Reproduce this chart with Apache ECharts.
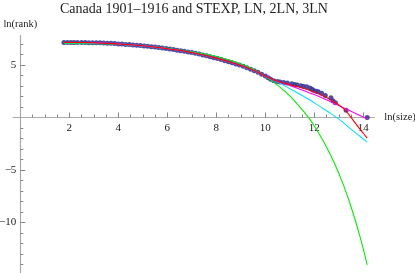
<!DOCTYPE html>
<html><head><meta charset="utf-8">
<script src="https://cdn.jsdelivr.net/npm/echarts@6/dist/echarts.min.js"></script>
<style>html,body{margin:0;padding:0;background:#fff}#c{width:415px;height:273px}</style>
</head><body><div id="c"></div><script>
const titleText = 'Canada 1901\u20131916 and STEXP, LN, 2LN, 3LN';
const xTicks = [2, 4, 6, 8, 10, 12, 14];
const xMinorTicks = [0.5,1,1.5,2,2.5,3,3.5,4,4.5,5,5.5,6,6.5,7,7.5,8,8.5,9,9.5,10,10.5,11,11.5,12,12.5,13,13.5,14];
const yTicks = [-10, -5, 5];
const yMinorTicks = [-14,-13,-12,-11,-10,-9,-8,-7,-6,-5,-4,-3,-2,-1,1,2,3,4,5,6,7];

// data points (ln(size), ln(rank))
const dataX = [1.78,1.92,2.06,2.19,2.33,2.5,2.65,2.8,2.95,3.1,3.25,3.4,3.55,3.7,3.85,4.0,4.15,4.3,4.45,4.6,4.75,4.9,5.05,5.2,5.35,5.5,5.65,5.8,5.95,6.1,6.25,6.4,6.55,6.7,6.85,7.0,7.15,7.3,7.45,7.6,7.75,7.9,8.05,8.2,8.35,8.5,8.65,8.8,8.95,9.1,9.25,9.4,9.55,9.7,9.85,10.0,10.12,10.22,
  10.35,10.5,10.6,10.75,10.9,11.08,11.2,11.3,11.45,11.55,11.69,11.82,11.9,11.96,12.08,12.16,12.3,12.45,12.68,12.76,12.86,13.3,14.16];
const dataY = [7.15,7.15,7.15,7.15,7.14,7.14,7.14,7.13,7.12,7.12,7.11,7.1,7.08,7.06,7.04,7.01,6.99,6.96,6.94,6.91,6.88,6.85,6.81,6.78,6.74,6.71,6.67,6.62,6.57,6.52,6.47,6.41,6.36,6.3,6.24,6.18,6.11,6.04,5.96,5.88,5.79,5.7,5.61,5.51,5.41,5.31,5.21,5.1,4.99,4.87,4.74,4.6,4.45,4.3,4.12,3.94,3.78,3.64,
  3.5,3.42,3.38,3.32,3.28,3.22,3.15,3.08,3.02,2.98,2.92,2.8,2.68,2.6,2.5,2.44,2.3,2.1,1.87,1.6,1.4,0.68,0.0];

// STEXP (green)
const stexpX = [1.8,3,4,5,6,7,8,9,9.5,10,10.5,11,11.5,11.8,12.0,12.4,12.8,13.2,13.6,13.9,14.16];
const stexpY = [7.06,7.03,6.97,6.83,6.58,6.25,5.8,5.1,4.6,3.92,3.08,2.05,0.75,-0.12,-0.82,-2.38,-4.25,-6.5,-9.25,-11.65,-14.05];
// LN (cyan)
const lnX = [1.8,3,4,5,6,7,8,9,9.5,10,10.6,11,11.5,11.82,12,12.5,12.91,13.5,14,14.16];
const lnY = [7.12,7.1,7.0,6.82,6.55,6.17,5.64,4.95,4.48,3.92,3.26,2.74,2.09,1.67,1.39,0.63,0.0,-1.11,-2.06,-2.36];
// 2LN (red)
const ln2X = [1.8,2.5,3,4,5,6,7,8,9,9.5,10,10.5,11,11.5,12,12.5,13,13.25,13.5,13.73,14,14.16];
const ln2Y = [7.15,7.14,7.12,7.0,6.83,6.55,6.18,5.65,4.95,4.5,3.95,3.45,3.12,2.82,2.42,1.9,1.2,0.71,0.0,-0.71,-1.51,-1.98];
// 3LN (magenta)
const ln3X = [1.8,3,4,5,6,7,8,9,9.5,10,10.5,11,11.5,12,12.5,13,13.5,14,14.16];
const ln3Y = [7.14,7.12,7.0,6.83,6.55,6.18,5.65,4.95,4.5,3.95,3.42,3.05,2.62,2.18,1.68,1.13,0.58,0.03,-0.15];

const zip = (a, b) => a.map((v, i) => [v, b[i]]);
const serif = 'Liberation Serif, Times New Roman, serif';
const fmt = v => v < 0 ? '\u2212' + (-v) : String(v);

const W = 415, H = 273;
const X_MIN = -0.3, X_MAX = 14.45, Y_MIN = -14.8, Y_MAX = 7.8;
const G = {left: 13, right: 40.7, top: 35.6, bottom: 0.3};
const pw = W - G.left - G.right, ph = H - G.top - G.bottom;
const x0px = G.left + (0 - X_MIN) / (X_MAX - X_MIN) * pw;   // where x = 0 sits
const y0px = G.top + (Y_MAX - 0) / (Y_MAX - Y_MIN) * ph;    // where y = 0 sits
const base = {containLabel: false, outerBoundsMode: 'none'};
const grids = [
  Object.assign({}, base, G),                                              // plot
  Object.assign({}, base, G),                                              // major ticks
  Object.assign({}, base, {left: G.left, right: G.right, top: G.top, bottom: H - y0px}), // x labels
  Object.assign({}, base, {left: x0px, right: G.right, top: G.top, bottom: G.bottom})    // y labels
];

const chart = echarts.init(document.getElementById('c'), null, {renderer: 'canvas'});
const line = (name, x, y, color) => ({
  name, type: 'line', data: zip(x, y), xAxisIndex: 0, yAxisIndex: 0,
  showSymbol: false, smooth: true, clip: true,
  lineStyle: {color, width: 1.1}, z: 3, animation: false
});
const hidden = (gi, min, max) => ({type: 'value', gridIndex: gi, min, max, show: false});
const tickColor = '#888';
chart.setOption({
  animation: false,
  title: {text: titleText, left: 60, top: 2, padding: 0,
    textStyle: {fontFamily: serif, fontSize: 14, fontWeight: 'normal', color: '#222'}},
  grid: grids,
  xAxis: [
    {type: 'value', gridIndex: 0, min: X_MIN, max: X_MAX,
     name: 'ln(size)', nameLocation: 'end', nameGap: 10,
     nameTextStyle: {fontFamily: serif, fontSize: 10.5, color: '#222'},
     axisLine: {onZero: true, lineStyle: {color: '#aaa', width: 1.2}},
     axisTick: {inside: true, length: 3, customValues: xMinorTicks, lineStyle: {color: tickColor}},
     axisLabel: {show: false}, splitLine: {show: false}},
    {type: 'value', gridIndex: 1, min: X_MIN, max: X_MAX,
     axisLine: {show: false, onZero: true},
     axisTick: {inside: true, length: 5, customValues: xTicks, lineStyle: {color: tickColor}},
     axisLabel: {show: false}, splitLine: {show: false}},
    {type: 'value', gridIndex: 2, min: X_MIN, max: X_MAX, position: 'bottom',
     axisLine: {show: false, onZero: false}, axisTick: {show: false}, splitLine: {show: false},
     axisLabel: {customValues: xTicks, margin: 5, fontFamily: serif, fontSize: 11, color: '#222', formatter: fmt}},
    hidden(3, 0, X_MAX)
  ],
  yAxis: [
    {type: 'value', gridIndex: 0, min: Y_MIN, max: Y_MAX,
     name: 'ln(rank)', nameLocation: 'end', nameGap: 6,
     nameTextStyle: {fontFamily: serif, fontSize: 10.5, color: '#222', align: 'center'},
     axisLine: {onZero: true, lineStyle: {color: '#aaa', width: 1.2}},
     axisTick: {inside: true, length: 3, customValues: yMinorTicks, lineStyle: {color: tickColor}},
     axisLabel: {show: false}, splitLine: {show: false}},
    {type: 'value', gridIndex: 1, min: Y_MIN, max: Y_MAX,
     axisLine: {show: false, onZero: true},
     axisTick: {inside: true, length: 5, customValues: yTicks, lineStyle: {color: tickColor}},
     axisLabel: {show: false}, splitLine: {show: false}},
    hidden(2, 0, Y_MAX),
    {type: 'value', gridIndex: 3, min: Y_MIN, max: Y_MAX, position: 'left',
     axisLine: {show: false, onZero: false}, axisTick: {show: false}, splitLine: {show: false},
     axisLabel: {customValues: yTicks, margin: 4, fontFamily: serif, fontSize: 11, color: '#222', formatter: fmt}}
  ],
  series: [
    {name: 'Canada', type: 'scatter', data: zip(dataX, dataY), xAxisIndex: 0, yAxisIndex: 0,
     symbolSize: 5, itemStyle: {color: '#3d3d99', opacity: 0.9}, z: 2, animation: false},
    line('STEXP', stexpX, stexpY, '#00ee00'),
    line('LN', lnX, lnY, '#00e5ff'),
    line('3LN', ln3X, ln3Y, '#ff00ff'),
    line('2LN', ln2X, ln2Y, '#ff0000')
  ]
});
</script></body></html>
